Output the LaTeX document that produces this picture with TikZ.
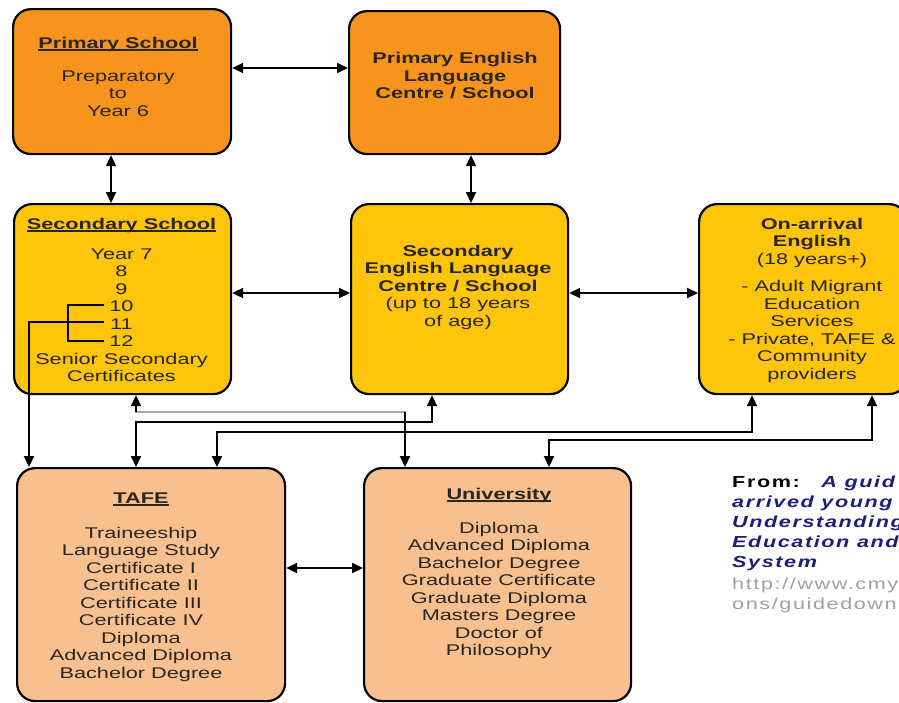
\documentclass[tikz,border=0pt]{standalone}
\usepackage{fontspec}
\setmainfont{Liberation Sans}[FakeStretch=1.4]
\newfontfamily\fromfont{Liberation Sans}[FakeStretch=1.35,LetterSpace=10]
\usetikzlibrary{arrows.meta}
\definecolor{orA}{HTML}{F7941D}
\definecolor{yeA}{HTML}{FEC50B}
\definecolor{peA}{HTML}{F9C08F}
\definecolor{txA}{HTML}{2A2620}
\definecolor{navy}{HTML}{1E1E78}
\definecolor{urlg}{HTML}{A0A0A0}
\newcommand{\hd}[1]{\textbf{\setbox0\hbox{#1}\rlap{\rule[-2.6pt]{\wd0}{1.5pt}}\box0}}
\begin{document}
\begin{tikzpicture}[x=1pt,y=-1pt,
 box/.style={draw=black,line width=2.2pt,rounded corners=18pt,anchor=north west,inner sep=0pt},
 txt/.style={align=center,font=\fontsize{15.5}{17.5}\selectfont,text=txA,inner sep=0pt},
 txtb/.style={align=center,font=\fontsize{15.5}{17.5}\selectfont\bfseries,text=txA,inner sep=0pt},
 conn/.style={line width=2.1pt,draw=black,>={Triangle[length=11pt,width=10pt]}},
 grayline/.style={line width=2.1pt,draw=black!35,line cap=rect}]
\useasboundingbox (0,0) rectangle (899,702);
\clip (0,0) rectangle (899,702);
\fill[white] (0,0) rectangle (899,702);

% boxes
\node[box,fill=orA,minimum width=218pt,minimum height=145pt] (ps) at (12,8) {};
\node[box,fill=orA,minimum width=211pt,minimum height=143pt] (pelc) at (348,10) {};
\node[box,fill=yeA,minimum width=217pt,minimum height=190pt] (ss) at (13,203) {};
\node[box,fill=yeA,minimum width=217pt,minimum height=190pt] (selc) at (350,203) {};
\node[box,fill=yeA,minimum width=208pt,minimum height=190pt] (oa) at (698,203) {};
\node[box,fill=peA,minimum width=268pt,minimum height=233pt] (tafe) at (16,467) {};
\node[box,fill=peA,minimum width=267pt,minimum height=233pt] (uni) at (363,467) {};

% straight connectors
\coordinate (yTop) at (0,68);
\coordinate (xL) at (111,0);
\coordinate (xR) at (471,0);
\coordinate (yMid) at (0,293);
\coordinate (yLow) at (0,568);
\draw[conn,<->] (ps.east |- yTop) -- (pelc.west |- yTop);
\draw[conn,<->] (ps.south -| xL) -- (ss.north -| xL);
\draw[conn,<->] (pelc.south -| xR) -- (selc.north -| xR);
\draw[conn,<->] (ss.east |- yMid) -- (selc.west |- yMid);
\draw[conn,<->] (selc.east |- yMid) -- (oa.west |- yMid);
\draw[conn,<->] (tafe.east |- yLow) -- (uni.west |- yLow);

% routed connectors
\coordinate (g1) at (136,412); \coordinate (g2) at (405,412);
\draw[grayline] (g1) -- (g2);
\draw[conn,->] (g1) -- (ss.south -| g1);
\draw[conn,->] (g2) -- (uni.north -| g2);
\coordinate (h1) at (136,422); \coordinate (h2) at (432,422);
\draw[conn,<->] (tafe.north -| h1) -- (h1) -- (h2) -- (selc.south -| h2);
\coordinate (i1) at (217,432); \coordinate (i2) at (752,432);
\draw[conn,<->] (tafe.north -| i1) -- (i1) -- (i2) -- (oa.south -| i2);
\coordinate (j1) at (549,440); \coordinate (j2) at (872,440);
\draw[conn,<->] (uni.north -| j1) -- (j1) -- (j2) -- (oa.south -| j2);

% bracket for years 10-12
\coordinate (k1) at (104,305); \coordinate (k2) at (68,305);
\coordinate (k3) at (68,341); \coordinate (k4) at (104,341);
\coordinate (k5) at (104,322); \coordinate (b0) at (29,322);
\draw[conn] (k1) -- (k2) -- (k3) -- (k4);
\draw[conn,->] (k5) -- (b0) -- (tafe.north -| b0);

% texts
\node[txt] (pst) at (118,76.5) {\hd{Primary School}\\[15.5pt]Preparatory\\to\\Year 6};
\node[txtb] (pelct) at (455,76) {Primary English\\Language\\Centre / School};
\node[txt] (sst) at (121.5,300) {\hd{Secondary School}\\[12.5pt]Year 7\\8\\9\\10\\11\\12\\Senior Secondary\\Certificates};
\node[txt] (selct) at (458,287) {\textbf{Secondary}\\\textbf{English Language}\\\textbf{Centre / School}\\(up to 18 years\\of age)};
\node[txt] (oat) at (812,300) {\textbf{On-arrival}\\\textbf{English}\\(18 years+)\\[10pt]- Adult Migrant\\Education\\Services\\- Private, TAFE \&\\Community\\providers};
\node[txt] (tafet) at (141,587) {\hd{TAFE}\\[17.5pt]Traineeship\\Language Study\\Certificate I\\Certificate II\\Certificate III\\Certificate IV\\Diploma\\Advanced Diploma\\Bachelor Degree};
\node[txt] (unit) at (499,573.5) {\hd{University}\\[16.5pt]Diploma\\Advanced Diploma\\Bachelor Degree\\Graduate Certificate\\Graduate Diploma\\Masters Degree\\Doctor of\\Philosophy};

\node[anchor=north west,align=left,inner sep=0pt,font=\fromfont\fontsize{16}{20}\selectfont] (src) at (732,476)
 {\textbf{From:}\hspace{20pt}{\color{navy}\bfseries\itshape A guid}\\
  {\color{navy}\bfseries\itshape arrived young}\\
  {\color{navy}\bfseries\itshape Understanding}\\
  {\color{navy}\bfseries\itshape Education and}\\
  {\color{navy}\bfseries\itshape System}\\[2pt]
  {\color{urlg}http://www.cmy}\\
  {\color{urlg}ons/guidedown}};
\end{tikzpicture}
\end{document}
